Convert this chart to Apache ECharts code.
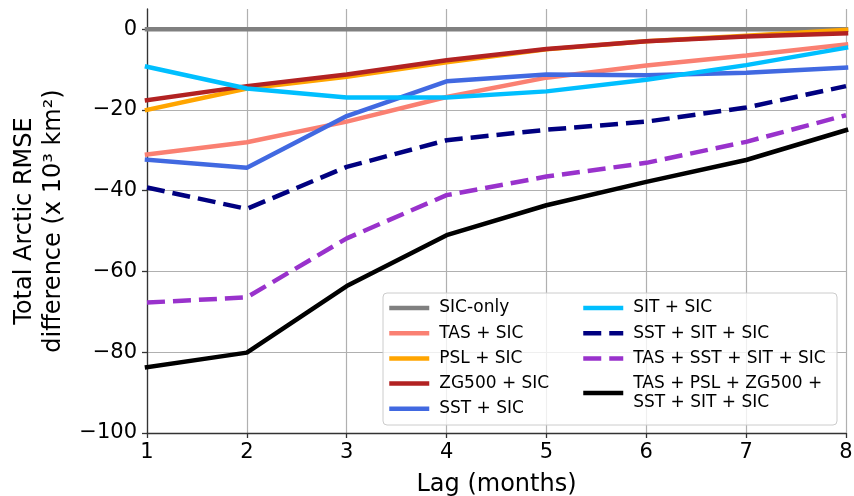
<!DOCTYPE html>
<html>
<head>
<meta charset="utf-8">
<script src="https://cdn.jsdelivr.net/npm/echarts@6/dist/echarts.min.js"></script>
<style>
html,body{margin:0;padding:0;background:#fff;}
#chart{width:854px;height:496px;}
</style>
</head>
<body>
<div id="chart"></div>
<script>
var lags = [1, 2, 3, 4, 5, 6, 7, 8];

var sicOnly   = [0, 0, 0, 0, 0, 0, 0, 0];
var tasSic    = [-31.0, -28.0, -22.9, -16.8, -12.0, -9.0, -6.5, -3.8];
var pslSic    = [-20.0, -14.7, -11.8, -8.2, -5.0, -3.0, -1.6, -0.2];
var zg500Sic  = [-17.6, -14.1, -11.2, -7.7, -4.9, -3.0, -1.8, -1.0];
var sstSic    = [-32.3, -34.3, -21.5, -12.9, -11.2, -11.4, -10.8, -9.5];
var sitSic    = [-9.3, -14.7, -16.9, -16.9, -15.4, -12.5, -8.9, -4.6];
var sstSitSic = [-39.2, -44.5, -34.1, -27.5, -24.9, -22.9, -19.4, -14.1];
var tasSstSitSic = [-67.7, -66.4, -51.8, -41.1, -36.5, -33.1, -27.9, -21.3];
var allVars   = [-83.7, -80.1, -63.6, -51.0, -43.6, -37.8, -32.4, -25.0];

var names = ['SIC-only', 'TAS + SIC', 'PSL + SIC', 'ZG500 + SIC', 'SST + SIC',
             'SIT + SIC', 'SST + SIT + SIC', 'TAS + SST + SIT + SIC',
             'TAS + PSL + ZG500 + SST + SIT + SIC'];
var legendLabels = {'TAS + PSL + ZG500 + SST + SIT + SIC': 'TAS + PSL + ZG500 +\nSST + SIT + SIC'};
var colors = ['#808080', '#fa8072', '#ffa500', '#b22222', '#4169e1',
              '#00bfff', '#000080', '#9932cc', '#000000'];
var dashed = [false, false, false, false, false, false, true, true, false];
var values = [sicOnly, tasSic, pslSic, zg500Sic, sstSic, sitSic, sstSitSic, tasSstSitSic, allVars];

var FONT = 'DejaVu Sans';
var LW = 4.5;
var DASH = [18, 8];

var series = names.map(function (n, i) {
  return {
    name: n,
    type: 'line',
    data: lags.map(function (x, j) { return [x, values[i][j]]; }),
    symbol: 'none',
    showSymbol: false,
    color: colors[i],
    z: 2 + i * 0.01,
    lineStyle: {
      color: colors[i],
      width: LW,
      type: dashed[i] ? DASH : 'solid',
      cap: dashed[i] ? 'butt' : 'square'
    },
    emphasis: { disabled: true },
    silent: true
  };
});

function legendData(list) {
  return list.map(function (n) {
    var i = names.indexOf(n);
    return {
      name: n,
      itemStyle: { color: 'rgba(0,0,0,0)', borderWidth: 0, opacity: 0 },
      lineStyle: { color: colors[i], width: LW, type: dashed[i] ? DASH : 'solid', cap: 'butt', opacity: 1 }
    };
  });
}

var legendCommon = {
  orient: 'vertical',
  padding: 0,
  itemWidth: 40,
  itemHeight: 14,
  itemGap: 6.2,
  selectedMode: false,
  z: 20,
  itemStyle: { color: 'rgba(0,0,0,0)', borderWidth: 0, opacity: 0 },
  lineStyle: { width: LW },
  textStyle: { fontFamily: FONT, fontSize: 17, color: '#000', lineHeight: 19, padding: [0, 0, 0, 5] },
  formatter: function (n) { return legendLabels[n] || n; }
};

var chart = echarts.init(document.getElementById('chart'), null, { renderer: 'canvas' });
chart.setOption({
  animation: false,
  backgroundColor: '#ffffff',
  grid: { left: 147, right: 8, top: 9, bottom: 63, containLabel: false, outerBoundsMode: 'none' },
  xAxis: {
    type: 'value',
    min: 1, max: 8, interval: 1,
    name: 'Lag (months)',
    nameLocation: 'middle',
    nameGap: 40,
    nameTextStyle: { fontFamily: FONT, fontSize: 24, color: '#000' },
    axisLine: { show: true, onZero: false, lineStyle: { color: '#333', width: 1.3 } },
    axisTick: { show: true, length: 5, lineStyle: { color: '#333', width: 1.3 } },
    axisLabel: { fontFamily: FONT, fontSize: 21, color: '#000', margin: 9 },
    splitLine: { show: true, lineStyle: { color: '#b0b0b0', width: 1.2 } }
  },
  yAxis: {
    type: 'value',
    min: -100, max: 5, interval: 20,
    name: 'Total Arctic RMSE\ndifference (x 10³ km²)',
    nameLocation: 'middle',
    nameRotate: 90,
    nameGap: 77,
    nameTextStyle: { fontFamily: FONT, fontSize: 24, color: '#000', lineHeight: 29 },
    axisLine: { show: true, onZero: false, lineStyle: { color: '#333', width: 1.3 } },
    axisTick: { show: true, length: 5, lineStyle: { color: '#333', width: 1.3 } },
    axisLabel: {
      fontFamily: FONT, fontSize: 21, color: '#000', margin: 10,
      showMaxLabel: false,
      formatter: function (v) { return v === 5 ? '' : String(v).replace('-', '\u2212'); }
    },
    splitLine: { show: true, showMaxLine: false, lineStyle: { color: '#b0b0b0', width: 1.2 } }
  },
  graphic: [{
    type: 'rect',
    z: 10,
    shape: { x: 383, y: 293, width: 454, height: 132, r: 4 },
    style: { fill: 'rgba(255,255,255,0.8)', stroke: '#cccccc', lineWidth: 1 },
    silent: true
  }],
  legend: [
    Object.assign({}, legendCommon, { left: 387, top: 298.5, data: legendData(names.slice(0, 5)) }),
    Object.assign({}, legendCommon, { left: 581, top: 298.5, data: legendData(names.slice(5)) })
  ],
  series: series
});
</script>
</body>
</html>
